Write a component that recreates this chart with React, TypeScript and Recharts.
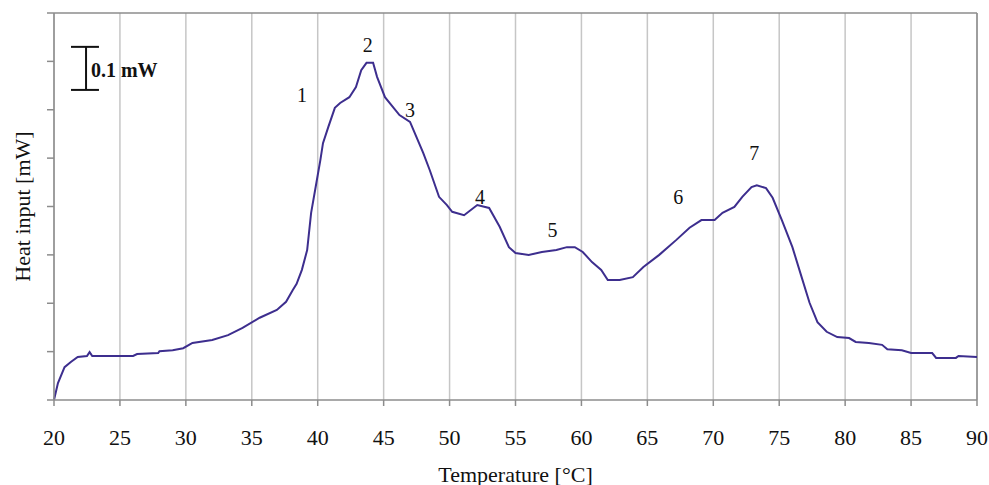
import {
  CartesianGrid,
  Line,
  LineChart,
  ReferenceDot,
  ReferenceLine,
  XAxis,
  YAxis,
} from "recharts";

// temperature [°C] and heat input [mW]
const temps = [
  20, 20.3, 20.8, 21.3, 21.8, 22.5, 22.7, 22.9, 26, 26.3, 27.9, 28, 29, 29.8,
  30.5, 32, 33.2, 34.3, 35.6, 36.9, 37.6, 38.1, 38.4, 38.8, 39.2, 39.5, 39.9,
  40.2, 40.4, 40.8, 41.3, 41.7, 42.4, 42.9, 43.3, 43.7, 44.2, 44.5, 45.1, 46.2,
  47, 48, 48.5, 49.2, 49.8, 50.2, 51.1, 52.1, 53, 53.8, 54.5, 55, 56, 57, 58.1,
  58.9, 59.5, 60.1, 60.8, 61.5, 62, 62.9, 63.9, 64.7, 65.9, 67.2, 68.2, 69.1,
  70.1, 70.7, 71.6, 72.2, 72.9, 73.3, 74, 74.5, 75.2, 76, 76.7, 77.3, 77.9,
  78.6, 79.4, 80.3, 80.8, 81.8, 82.8, 83.2, 84.3, 85, 86.6, 86.9, 88.4, 88.6, 90,
];
const heat = [
  0, 0.035, 0.068, 0.079, 0.089, 0.091, 0.099, 0.091, 0.091, 0.095, 0.097,
  0.101, 0.103, 0.107, 0.118, 0.124, 0.134, 0.149, 0.17, 0.186, 0.203, 0.227,
  0.24, 0.269, 0.31, 0.387, 0.449, 0.496, 0.531, 0.564, 0.604, 0.614, 0.626,
  0.647, 0.682, 0.697, 0.697, 0.668, 0.626, 0.589, 0.575, 0.511, 0.475, 0.42,
  0.403, 0.389, 0.382, 0.403, 0.397, 0.358, 0.316, 0.304, 0.3, 0.306, 0.31,
  0.316, 0.316, 0.306, 0.285, 0.269, 0.248, 0.248, 0.254, 0.275, 0.3, 0.331,
  0.356, 0.372, 0.372, 0.387, 0.399, 0.42, 0.44, 0.444, 0.438, 0.418, 0.372,
  0.316, 0.254, 0.201, 0.161, 0.141, 0.13, 0.128, 0.12, 0.118, 0.114, 0.105,
  0.103, 0.097, 0.097, 0.087, 0.087, 0.091, 0.089,
];

const xTicks = [20, 25, 30, 35, 40, 45, 50, 55, 60, 65, 70, 75, 80, 85, 90];
const yTicks = [0, 0.1, 0.2, 0.3, 0.4, 0.5, 0.6, 0.7, 0.8];

// peak numbers and where they sit
const peakNames = ["1", "2", "3", "4", "5", "6", "7"];
const peakT = [38.8, 43.8, 47.0, 52.3, 57.8, 67.35, 73.1];
const peakH = [0.63, 0.734, 0.6, 0.42, 0.351, 0.42, 0.511];

const data = temps.map((t, i) => ({ t, h: heat[i] }));

const SERIF = "'Liberation Serif', 'Times New Roman', serif";
const LINE = "#3d2e8e";
const AXIS = "#8c8c8c";

function tag(text: string, anchor: "start" | "middle", size: number, bold = false) {
  return ({ viewBox }: any) => (
    <text
      x={viewBox.x}
      y={viewBox.y}
      textAnchor={anchor}
      dominantBaseline="central"
      fontFamily={SERIF}
      fontSize={size}
      fontWeight={bold ? 700 : 400}
      fill="#111"
    >
      {text}
    </text>
  );
}

export default function App() {
  return (
    <div style={{ position: "absolute", left: 0, top: 0, background: "#fff" }}>
      <LineChart
        width={989}
        height={485}
        data={data}
        margin={{ top: 13, right: 12, bottom: 0, left: 0 }}
      >
        <CartesianGrid horizontal={false} stroke="#c6c6c6" strokeWidth={1.5} />
        <XAxis
          dataKey="t"
          type="number"
          domain={[20, 90]}
          ticks={xTicks}
          height={85}
          stroke={AXIS}
          strokeWidth={1.5}
          tickSize={6}
          tickMargin={23}
          tick={{ fill: "#111", fontSize: 22, fontFamily: SERIF }}
          label={{
            value: "Temperature [°C]",
            position: "insideBottom",
            offset: 3,
            fill: "#111",
            fontSize: 22,
            fontFamily: SERIF,
          }}
        />
        <YAxis
          type="number"
          domain={[0, 0.8]}
          ticks={yTicks}
          width={54}
          stroke={AXIS}
          strokeWidth={1.5}
          tickSize={7}
          tickFormatter={() => ""}
          label={{
            content: ({ viewBox }: any) => (
              <text
                x={22}
                y={viewBox.y + viewBox.height / 2}
                transform={`rotate(-90 22 ${viewBox.y + viewBox.height / 2})`}
                textAnchor="middle"
                dominantBaseline="central"
                fontFamily={SERIF}
                fontSize={22}
                fill="#111"
              >
                Heat input [mW]
              </text>
            ),
          }}
        />
        <ReferenceLine y={0.8} stroke={AXIS} strokeWidth={1.5} />
        <ReferenceLine x={90} stroke={AXIS} strokeWidth={1.5} />

        {/* 0.1 mW scale bar */}
        <ReferenceLine
          segment={[
            { x: 22.43, y: 0.641 },
            { x: 22.43, y: 0.73 },
          ]}
          stroke="#111"
          strokeWidth={2}
        />
        <ReferenceLine
          segment={[
            { x: 21.29, y: 0.73 },
            { x: 23.41, y: 0.73 },
          ]}
          stroke="#111"
          strokeWidth={2}
        />
        <ReferenceLine
          segment={[
            { x: 21.29, y: 0.641 },
            { x: 23.41, y: 0.641 },
          ]}
          stroke="#111"
          strokeWidth={2}
        />
        <ReferenceDot x={22.8} y={0.683} r={0} label={{ content: tag("0.1 mW", "start", 20, true) }} />

        <Line
          type="linear"
          dataKey="h"
          stroke={LINE}
          strokeWidth={2}
          dot={false}
          isAnimationActive={false}
        />

        {peakNames.map((n, i) => (
          <ReferenceDot
            key={n}
            x={peakT[i]}
            y={peakH[i]}
            r={0}
            label={{ content: tag(n, "middle", 20) }}
          />
        ))}
      </LineChart>
    </div>
  );
}
